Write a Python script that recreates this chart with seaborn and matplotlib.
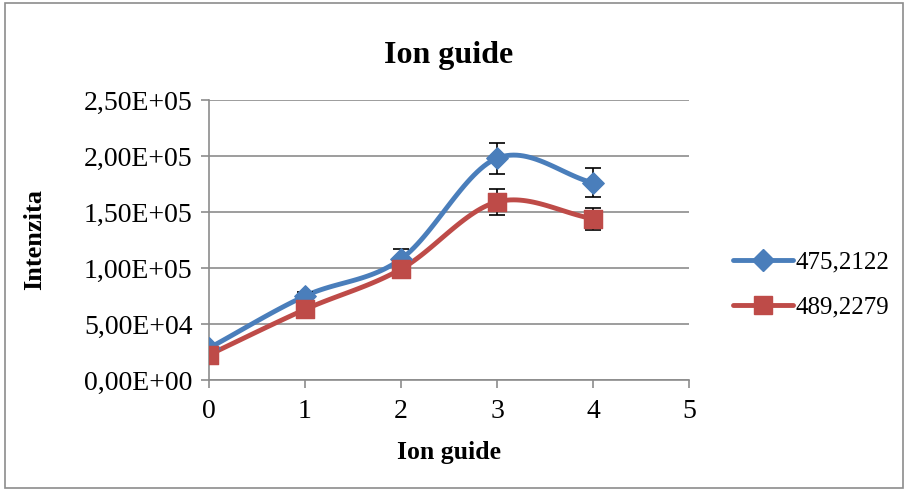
import numpy as np
import pandas as pd
import matplotlib
matplotlib.use("Agg")
import matplotlib.pyplot as plt
import seaborn as sns
from matplotlib.ticker import FuncFormatter
from matplotlib.patches import Rectangle

# data
x_vals = [0, 1, 2, 3, 4]
series_names = ["475,2122", "489,2279"]
blue_vals = [28500, 75000, 108000, 198000, 176000]
red_vals = [22500, 63000, 99000, 159000, 144000]
blue_err = [2000, 4000, 9000, 14000, 13000]
red_err = [1500, 3000, 4000, 11500, 10000]

colors = ["#4a7ebb", "#be4b48"]
markers = ["D", "s"]
msizes = [11, 13]

sns.set_theme(style="white")
plt.rcParams["font.family"] = ["Liberation Serif", "DejaVu Serif"]
plt.rcParams["text.color"] = "black"
plt.rcParams["axes.labelcolor"] = "black"

fig = plt.figure(figsize=(9.07, 4.9), dpi=100)
ax = fig.add_axes([209 / 907, 1 - 380 / 490, 480 / 907, 280 / 490])

# border around the whole chart
fig.patches.append(Rectangle((0.006, 0.004), 0.99, 0.99, transform=fig.transFigure,
                             fill=False, edgecolor="#8c8c8c", lw=1.2))


def smooth(xs, ys, n=30):
    # Catmull-Rom style smoothing like Excel's smoothed line
    xs = np.asarray(xs, float)
    ys = np.asarray(ys, float)
    px = np.concatenate([[2 * xs[0] - xs[1]], xs, [2 * xs[-1] - xs[-2]]])
    py = np.concatenate([[2 * ys[0] - ys[1]], ys, [2 * ys[-1] - ys[-2]]])
    ox, oy = [], []
    for i in range(1, len(px) - 2):
        p0, p1, p2, p3 = [np.array([px[j], py[j]]) for j in range(i - 1, i + 3)]
        c1 = p1 + (p2 - p0) / 6
        c2 = p2 - (p3 - p1) / 6
        t = np.linspace(0, 1, n)[:, None]
        pts = (1 - t) ** 3 * p1 + 3 * (1 - t) ** 2 * t * c1 + 3 * (1 - t) * t ** 2 * c2 + t ** 3 * p2
        ox.extend(pts[:, 0])
        oy.extend(pts[:, 1])
    return np.array(ox), np.array(oy)


df = pd.DataFrame({
    "x": x_vals * 2,
    "y": blue_vals + red_vals,
    "err": blue_err + red_err,
    "serie": [series_names[0]] * 5 + [series_names[1]] * 5,
})

handles = []
for k, name in enumerate(series_names):
    d = df[df["serie"] == name]
    sx, sy = smooth(d["x"], d["y"])
    ax.plot(sx, sy, color=colors[k], lw=3.5, zorder=3)
    ax.errorbar(d["x"], d["y"], yerr=d["err"], fmt="none", ecolor="black",
                elinewidth=1.2, capsize=6, capthick=1.2, zorder=4)
    sns.scatterplot(x=d["x"], y=d["y"], ax=ax, marker=markers[k], s=msizes[k] ** 2,
                    color=colors[k], edgecolor=colors[k], zorder=5, legend=False)
    h, = ax.plot([], [], color=colors[k], lw=3.5, marker=markers[k], ms=msizes[k], label=name)
    handles.append(h)

ax.set_xlim(0, 5)
ax.set_ylim(0, 250000)
ax.set_xticks(range(0, 6))
ax.set_yticks(np.arange(0, 250001, 50000))
ax.yaxis.set_major_formatter(FuncFormatter(
    lambda v, p: f"{v:.2E}".replace(".", ",")))
ax.grid(axis="y", color="#8c8c8c", lw=1.2)
ax.grid(axis="x", visible=False)
for s in ["top", "right"]:
    ax.spines[s].set_visible(False)
for s in ["left", "bottom"]:
    ax.spines[s].set_color("#8c8c8c")
    ax.spines[s].set_linewidth(1.2)
ax.tick_params(axis="both", which="major", direction="out", length=6, width=1.2,
               color="#8c8c8c", labelsize=20, labelcolor="black", bottom=True, left=True)
ax.tick_params(axis="x", pad=8)
ax.tick_params(axis="y", pad=6)
ax.set_axisbelow(True)

ax.set_title("Ion guide", fontsize=23, fontweight="bold", pad=27, color="black")
ax.set_xlabel("Ion guide", fontsize=18.5, fontweight="bold", labelpad=12, color="black")
ax.set_ylabel("Intenzita", fontsize=19, fontweight="bold", labelpad=27, color="black")

fig.legend(handles=handles, labels=series_names, loc="center left",
           bbox_to_anchor=(733 / 907, 1 - 285 / 490), frameon=False,
           borderaxespad=0, borderpad=0, fontsize=18, handlelength=2.4,
           handletextpad=0.1, labelspacing=0.9)

fig.savefig("out.png", dpi=100)
